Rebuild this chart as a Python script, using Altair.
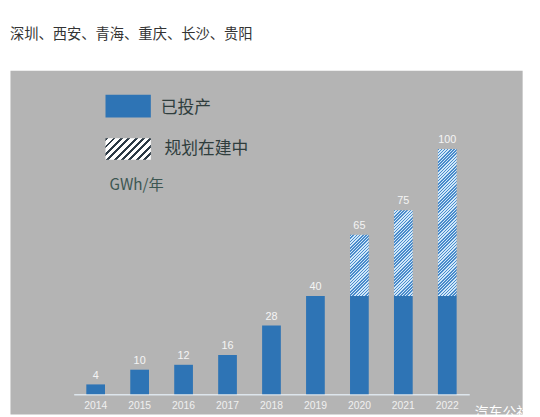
import altair as alt
import pandas as pd

# ---- data ----
years = ["2014", "2015", "2016", "2017", "2018", "2019", "2020", "2021", "2022"]
built = [4, 10, 12, 16, 28, 40, 40, 40, 40]          # 已投产
total = [4, 10, 12, 16, 28, 40, 65, 75, 100]         # 已投产 + 规划在建中
title_text = "深圳、西安、青海、重庆、长沙、贵阳"
legend_labels = ["已投产", "规划在建中"]
unit_label = "GWh/年"
watermark = "汽车公社"

# ---- style / layout ----
BLUE = "#2e74b5"
PANEL = "#b4b4b4"
PLOT_W, PLOT_H = 520, 349
BASE_PX = 329
PX_PER_UNIT = 2.49
Y_MIN = -(PLOT_H - BASE_PX) / PX_PER_UNIT
Y_MAX = BASE_PX / PX_PER_UNIT
BAR_W = 19
CJK = "Noto Sans CJK SC"


def hatch(w, h, c1, c2, period=5.0, frac=0.5):
    """Diagonal '/' stripes as a linear gradient in bounding-box units."""
    r = h / w
    k = (1 + r) / (1 + r * r)
    L = w + h
    stops = []
    pos = 0.0
    while pos < L:
        a = pos / L
        b = min((pos + period * frac) / L, 1.0)
        c = min((pos + period) / L, 1.0)
        stops += [
            {"offset": a, "color": c1},
            {"offset": b, "color": c1},
            {"offset": b, "color": c2},
            {"offset": c, "color": c2},
        ]
        pos += period
    return {"gradient": "linear", "x1": 0, "y1": 0, "x2": k, "y2": k * r, "stops": stops}


df = pd.DataFrame({"year": years, "built": built, "total": total})

x_enc = alt.X(
    "year:O",
    scale=alt.Scale(range=[64.7, 466.3], paddingInner=0, paddingOuter=0),
    axis=alt.Axis(
        title=None, orient="bottom", offset=-(PLOT_H - BASE_PX),
        domainColor="#dde5ec", domainWidth=1.5, ticks=False,
        labelColor="#f0f0f0", labelFontSize=10.5, labelPadding=6, labelAngle=0,
        labelFont="Liberation Sans", grid=False,
    ),
)
y_scale = alt.Scale(domain=[Y_MIN, Y_MAX], nice=False, zero=False)

solid = alt.Chart(df).mark_bar(size=BAR_W, color=BLUE).encode(
    x=x_enc,
    y=alt.Y("built:Q", scale=y_scale, axis=None),
    y2=alt.datum(0),
)

layers = [solid]
for yr, b, t in zip(years, built, total):
    if t > b:
        g = hatch(BAR_W, (t - b) * PX_PER_UNIT, "#4a8bcb", "#cfe7f9", period=3.2, frac=0.5)
        layers.append(
            alt.Chart(df)
            .transform_filter(alt.datum.year == yr)
            .mark_bar(size=BAR_W, fill=g)
            .encode(x=x_enc, y=alt.Y("built:Q", scale=y_scale, axis=None), y2="total:Q")
        )

labels = alt.Chart(df).mark_text(
    dy=-9, color="#f5f5f5", fontSize=11, font="Liberation Sans", baseline="middle"
).encode(x=x_enc, y=alt.Y("total:Q", scale=y_scale, axis=None), text="total:Q")
layers.append(labels)

one = pd.DataFrame({"k": [0]})

leg_blue = alt.Chart(one).mark_rect(color=BLUE).encode(
    x=alt.value(97), x2=alt.value(143), y=alt.value(25), y2=alt.value(48)
)
leg_hatch = alt.Chart(one).mark_rect(
    fill=hatch(46, 22, "#2b3944", "#ffffff", period=7.5, frac=0.4)
).encode(x=alt.value(97), x2=alt.value(143), y=alt.value(69), y2=alt.value(91))
leg_t1 = alt.Chart(one).mark_text(
    align="left", baseline="middle", fontSize=17, color="#2f3d3d", font=CJK
).encode(x=alt.value(153), y=alt.value(38), text=alt.value(legend_labels[0]))
leg_t2 = alt.Chart(one).mark_text(
    align="left", baseline="middle", fontSize=17, color="#2f3d3d", font=CJK
).encode(x=alt.value(157), y=alt.value(80), text=alt.value(legend_labels[1]))
unit_t = alt.Chart(one).mark_text(
    align="left", baseline="middle", fontSize=15.5, color="#3d5752", font=CJK
).encode(x=alt.value(101), y=alt.value(117), text=alt.value(unit_label))
title_t = alt.Chart(one).mark_text(
    align="left", baseline="middle", fontSize=14.5, color="#333333", font=CJK
).encode(x=alt.value(0), y=alt.value(-36), text=alt.value(title_text))
wm_t = alt.Chart(one).mark_text(
    align="left", baseline="top", fontSize=14, color="#ffffff", font=CJK
).encode(x=alt.value(472), y=alt.value(341), text=alt.value(watermark))

layers += [leg_blue, leg_hatch, leg_t1, leg_t2, unit_t, title_t, wm_t]

chart = (
    alt.layer(*layers)
    .properties(
        width=PLOT_W,
        height=PLOT_H,
        padding={"left": 2, "top": 60, "right": 10, "bottom": 0},
        autosize=alt.AutoSizeParams(type="none"),
    )
    .configure_view(fill=PANEL, stroke="transparent")
)

chart.save("out.html", embed_options={"renderer": "svg", "actions": False})
